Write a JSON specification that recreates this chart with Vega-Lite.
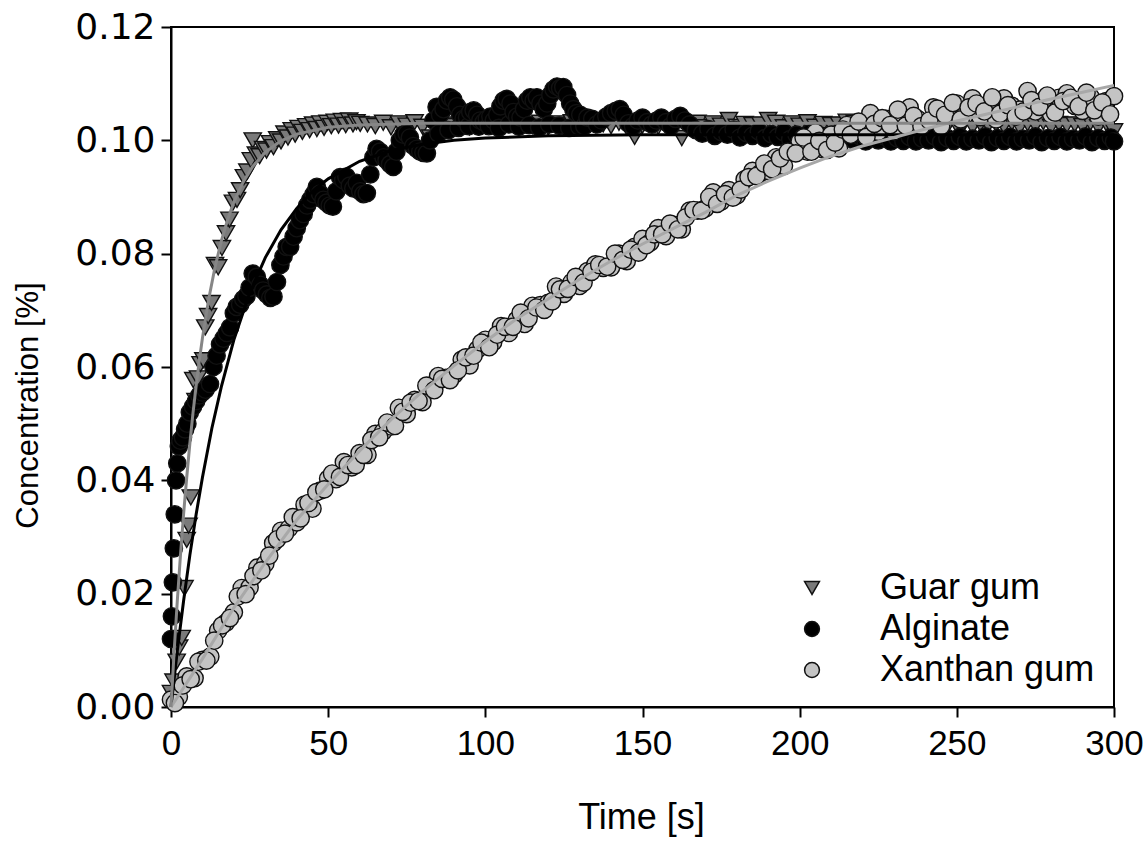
{
"$schema":"https://vega.github.io/schema/vega-lite/v6.json",
"width":943,"height":680,
"autosize":{"type":"none"},
"padding":{"left":171,"top":27,"right":33,"bottom":134},
"background":"white",
"config":{
 "view":{"stroke":"#000","strokeWidth":2},
 "axis":{"domainColor":"#000","domainWidth":2,"tickColor":"#000","tickWidth":2,"tickSize":10,"grid":false,"labelColor":"#000","titleColor":"#000","titleFontWeight":"normal"}
},
"datasets":{
"pts":[
{"s":"Guar gum","t":0,"c":0.0025},{"s":"Guar gum","t":0.8,"c":0.0045},{"s":"Guar gum","t":1.8,"c":0.008},{"s":"Guar gum","t":2.6,"c":0.0105},{"s":"Guar gum","t":3.4,"c":0.0122},{"s":"Guar gum","t":4.3,"c":0.021},{"s":"Guar gum","t":5.0,"c":0.0295},{"s":"Guar gum","t":5.6,"c":0.032},{"s":"Guar gum","t":6.3,"c":0.037},{"s":"Guar gum","t":7.1,"c":0.0577},{"s":"Guar gum","t":7.8,"c":0.054},{"s":"Guar gum","t":8.6,"c":0.058},{"s":"Guar gum","t":9.4,"c":0.0605},{"s":"Guar gum","t":10.3,"c":0.0612},{"s":"Guar gum","t":10.9,"c":0.067},{"s":"Guar gum","t":11.8,"c":0.069},{"s":"Guar gum","t":12.9,"c":0.0713},{"s":"Guar gum","t":14.0,"c":0.078},{"s":"Guar gum","t":15.0,"c":0.0776},{"s":"Guar gum","t":16.2,"c":0.081},{"s":"Guar gum","t":17.5,"c":0.0836},{"s":"Guar gum","t":18.6,"c":0.086},{"s":"Guar gum","t":19.7,"c":0.089},{"s":"Guar gum","t":21.0,"c":0.0895},{"s":"Guar gum","t":22.0,"c":0.0912},{"s":"Guar gum","t":23.2,"c":0.0935},{"s":"Guar gum","t":24.3,"c":0.0945},{"s":"Guar gum","t":25.4,"c":0.0965},{"s":"Guar gum","t":26.0,"c":0.1},{"s":"Guar gum","t":27.0,"c":0.0975},{"s":"Guar gum","t":28.2,"c":0.0972},{"s":"Guar gum","t":29.3,"c":0.0985},{"s":"Guar gum","t":30.4,"c":0.0982},{"s":"Guar gum","t":31.5,"c":0.0995},{"s":"Guar gum","t":32.6,"c":0.0988},{"s":"Guar gum","t":33.8,"c":0.1002},{"s":"Guar gum","t":35.0,"c":0.0998},{"s":"Guar gum","t":36.1,"c":0.1012},{"s":"Guar gum","t":37.2,"c":0.1005},{"s":"Guar gum","t":38.4,"c":0.1018},{"s":"Guar gum","t":39.5,"c":0.101},{"s":"Guar gum","t":40.6,"c":0.1022},{"s":"Guar gum","t":41.8,"c":0.1015},{"s":"Guar gum","t":43.0,"c":0.1025},{"s":"Guar gum","t":44.1,"c":0.1018},{"s":"Guar gum","t":45.2,"c":0.1028},{"s":"Guar gum","t":46.4,"c":0.102},{"s":"Guar gum","t":47.5,"c":0.103},{"s":"Guar gum","t":48.7,"c":0.1022},{"s":"Guar gum","t":49.8,"c":0.1031},{"s":"Guar gum","t":51.0,"c":0.1025},{"s":"Guar gum","t":52.1,"c":0.1033},{"s":"Guar gum","t":53.3,"c":0.1026},{"s":"Guar gum","t":54.4,"c":0.1034},{"s":"Guar gum","t":55.6,"c":0.1027},{"s":"Guar gum","t":56.7,"c":0.1035},{"s":"Guar gum","t":57.9,"c":0.1028},{"s":"Guar gum","t":59.0,"c":0.1032},{"s":"Guar gum","t":60.2,"c":0.1029},
{"s":"Guar gum","t":62.5,"c":0.1028},{"s":"Guar gum","t":65,"c":0.1025},{"s":"Guar gum","t":67.5,"c":0.1031},{"s":"Guar gum","t":70,"c":0.1023},{"s":"Guar gum","t":72.5,"c":0.103},{"s":"Guar gum","t":75,"c":0.1026},{"s":"Guar gum","t":77.5,"c":0.1032},{"s":"Guar gum","t":80,"c":0.1024},{"s":"Guar gum","t":82.5,"c":0.1005},{"s":"Guar gum","t":85,"c":0.1027},{"s":"Guar gum","t":87.5,"c":0.1028},{"s":"Guar gum","t":90,"c":0.1025},{"s":"Guar gum","t":92.5,"c":0.1031},{"s":"Guar gum","t":95,"c":0.1023},{"s":"Guar gum","t":97.5,"c":0.103},{"s":"Guar gum","t":100,"c":0.1026},{"s":"Guar gum","t":102.5,"c":0.1032},{"s":"Guar gum","t":105,"c":0.1024},{"s":"Guar gum","t":107.5,"c":0.1029},{"s":"Guar gum","t":110,"c":0.1027},{"s":"Guar gum","t":112.5,"c":0.1028},{"s":"Guar gum","t":115,"c":0.1025},{"s":"Guar gum","t":117.5,"c":0.1031},{"s":"Guar gum","t":120,"c":0.1023},{"s":"Guar gum","t":122.5,"c":0.103},{"s":"Guar gum","t":125,"c":0.1026},{"s":"Guar gum","t":127.5,"c":0.1032},{"s":"Guar gum","t":130,"c":0.1024},{"s":"Guar gum","t":132.5,"c":0.1029},{"s":"Guar gum","t":135,"c":0.1027},{"s":"Guar gum","t":137.5,"c":0.1028},{"s":"Guar gum","t":140,"c":0.1025},{"s":"Guar gum","t":142.5,"c":0.1031},{"s":"Guar gum","t":145,"c":0.1023},{"s":"Guar gum","t":147.5,"c":0.1006},{"s":"Guar gum","t":150,"c":0.1026},{"s":"Guar gum","t":152.5,"c":0.1032},{"s":"Guar gum","t":155,"c":0.1024},{"s":"Guar gum","t":157.5,"c":0.1029},{"s":"Guar gum","t":160,"c":0.1027},{"s":"Guar gum","t":162.5,"c":0.1004},{"s":"Guar gum","t":165,"c":0.1025},{"s":"Guar gum","t":167.5,"c":0.1031},{"s":"Guar gum","t":170,"c":0.1023},{"s":"Guar gum","t":172.5,"c":0.103},{"s":"Guar gum","t":175,"c":0.1026},{"s":"Guar gum","t":177.5,"c":0.1036},{"s":"Guar gum","t":180,"c":0.1024},{"s":"Guar gum","t":182.5,"c":0.1029},{"s":"Guar gum","t":185,"c":0.1027},{"s":"Guar gum","t":187.5,"c":0.1028},{"s":"Guar gum","t":190,"c":0.1036},{"s":"Guar gum","t":192.5,"c":0.1031},{"s":"Guar gum","t":195,"c":0.1023},{"s":"Guar gum","t":197.5,"c":0.103},{"s":"Guar gum","t":200,"c":0.1026},{"s":"Guar gum","t":202.5,"c":0.1032},{"s":"Guar gum","t":205,"c":0.1024},{"s":"Guar gum","t":207.5,"c":0.1029},{"s":"Guar gum","t":210,"c":0.1027},{"s":"Guar gum","t":212.5,"c":0.1028},{"s":"Guar gum","t":215,"c":0.1033},{"s":"Guar gum","t":217.5,"c":0.1031},{"s":"Guar gum","t":220,"c":0.1023},{"s":"Guar gum","t":222.5,"c":0.103},{"s":"Guar gum","t":225,"c":0.1026},{"s":"Guar gum","t":227.5,"c":0.1032},{"s":"Guar gum","t":230,"c":0.1024},{"s":"Guar gum","t":232.5,"c":0.1029},{"s":"Guar gum","t":235,"c":0.1027},{"s":"Guar gum","t":237.5,"c":0.1028},{"s":"Guar gum","t":240,"c":0.1025},{"s":"Guar gum","t":242.5,"c":0.1031},{"s":"Guar gum","t":245,"c":0.1023},{"s":"Guar gum","t":247.5,"c":0.103},{"s":"Guar gum","t":250,"c":0.1026},{"s":"Guar gum","t":252.5,"c":0.1032},{"s":"Guar gum","t":255,"c":0.1024},{"s":"Guar gum","t":257.5,"c":0.1029},{"s":"Guar gum","t":260,"c":0.1027},{"s":"Guar gum","t":262.5,"c":0.1028},{"s":"Guar gum","t":265,"c":0.1025},{"s":"Guar gum","t":267.5,"c":0.1031},{"s":"Guar gum","t":270,"c":0.1023},{"s":"Guar gum","t":272.5,"c":0.103},{"s":"Guar gum","t":275,"c":0.1026},{"s":"Guar gum","t":277.5,"c":0.1032},{"s":"Guar gum","t":280,"c":0.1024},{"s":"Guar gum","t":282.5,"c":0.1029},{"s":"Guar gum","t":285,"c":0.1027},{"s":"Guar gum","t":287.5,"c":0.1028},{"s":"Guar gum","t":290,"c":0.1025},{"s":"Guar gum","t":292.5,"c":0.1031},{"s":"Guar gum","t":295,"c":0.1023},{"s":"Guar gum","t":297.5,"c":0.103},{"s":"Guar gum","t":300,"c":0.1016},
{"s":"Alginate","t":0,"c":0.012},{"s":"Alginate","t":0.3,"c":0.016},{"s":"Alginate","t":0.6,"c":0.022},{"s":"Alginate","t":0.9,"c":0.028},{"s":"Alginate","t":1.2,"c":0.034},{"s":"Alginate","t":1.6,"c":0.04},{"s":"Alginate","t":2.0,"c":0.043},{"s":"Alginate","t":2.5,"c":0.046},{"s":"Alginate","t":3.0,"c":0.047},{"s":"Alginate","t":3.8,"c":0.0476},{"s":"Alginate","t":4.5,"c":0.049},{"s":"Alginate","t":5.2,"c":0.05},{"s":"Alginate","t":6.0,"c":0.052},{"s":"Alginate","t":7.0,"c":0.053},{"s":"Alginate","t":8.0,"c":0.054},{"s":"Alginate","t":9.0,"c":0.055},{"s":"Alginate","t":10.0,"c":0.0555},{"s":"Alginate","t":11.0,"c":0.056},{"s":"Alginate","t":12.4,"c":0.057},{"s":"Alginate","t":13.5,"c":0.06},{"s":"Alginate","t":14.5,"c":0.062},{"s":"Alginate","t":15.6,"c":0.064},{"s":"Alginate","t":16.7,"c":0.065},{"s":"Alginate","t":17.8,"c":0.066},{"s":"Alginate","t":18.8,"c":0.067},{"s":"Alginate","t":20.0,"c":0.0695},{"s":"Alginate","t":20.9,"c":0.0706},{"s":"Alginate","t":22.0,"c":0.071},{"s":"Alginate","t":23.0,"c":0.072},{"s":"Alginate","t":24.0,"c":0.0725},{"s":"Alginate","t":25.0,"c":0.074},{"s":"Alginate","t":26.0,"c":0.0765},{"s":"Alginate","t":27.3,"c":0.0759},{"s":"Alginate","t":28.4,"c":0.0745},{"s":"Alginate","t":29.3,"c":0.0735},{"s":"Alginate","t":30.5,"c":0.0728},{"s":"Alginate","t":31.6,"c":0.0722},{"s":"Alginate","t":32.6,"c":0.0724},{"s":"Alginate","t":33.7,"c":0.075},{"s":"Alginate","t":34.8,"c":0.078},{"s":"Alginate","t":35.8,"c":0.0795},{"s":"Alginate","t":36.8,"c":0.0812},{"s":"Alginate","t":37.9,"c":0.0812},{"s":"Alginate","t":39.0,"c":0.083},{"s":"Alginate","t":40.0,"c":0.0845},{"s":"Alginate","t":41.0,"c":0.0859},{"s":"Alginate","t":42.2,"c":0.087},{"s":"Alginate","t":43.3,"c":0.0885},{"s":"Alginate","t":44.3,"c":0.0895},{"s":"Alginate","t":45.4,"c":0.0905},{"s":"Alginate","t":46.4,"c":0.0918},{"s":"Alginate","t":47.4,"c":0.0906},{"s":"Alginate","t":48.5,"c":0.0895},{"s":"Alginate","t":49.5,"c":0.089},{"s":"Alginate","t":50.5,"c":0.0885},{"s":"Alginate","t":51.5,"c":0.0883},{"s":"Alginate","t":52.6,"c":0.091},{"s":"Alginate","t":53.8,"c":0.0935},{"s":"Alginate","t":54.8,"c":0.093},{"s":"Alginate","t":55.8,"c":0.0936},{"s":"Alginate","t":56.9,"c":0.092},{"s":"Alginate","t":58.0,"c":0.0915},{"s":"Alginate","t":59.1,"c":0.0925},{"s":"Alginate","t":60.2,"c":0.091},{"s":"Alginate","t":61.2,"c":0.0905},{"s":"Alginate","t":62.3,"c":0.0907},{"s":"Alginate","t":63.4,"c":0.094},{"s":"Alginate","t":64.4,"c":0.097},{"s":"Alginate","t":65.4,"c":0.0985},{"s":"Alginate","t":66.5,"c":0.098},{"s":"Alginate","t":67.6,"c":0.097},{"s":"Alginate","t":68.6,"c":0.0965},{"s":"Alginate","t":69.7,"c":0.0958},{"s":"Alginate","t":70.7,"c":0.0953},{"s":"Alginate","t":71.7,"c":0.098},{"s":"Alginate","t":72.8,"c":0.1},{"s":"Alginate","t":73.9,"c":0.101},{"s":"Alginate","t":75.0,"c":0.1012},{"s":"Alginate","t":76.0,"c":0.1005},{"s":"Alginate","t":77.1,"c":0.099},{"s":"Alginate","t":78.2,"c":0.0985},{"s":"Alginate","t":79.3,"c":0.098},{"s":"Alginate","t":80.3,"c":0.0978},{"s":"Alginate","t":81.4,"c":0.0977},{"s":"Alginate","t":82.4,"c":0.1},{"s":"Alginate","t":83.5,"c":0.1035},{"s":"Alginate","t":84.5,"c":0.1059},{"s":"Alginate","t":85.1,"c":0.1012},{"s":"Alginate","t":85.6,"c":0.1045},{"s":"Alginate","t":86.7,"c":0.1055},{"s":"Alginate","t":87.8,"c":0.107},{"s":"Alginate","t":88.3,"c":0.1018},{"s":"Alginate","t":88.8,"c":0.1076},{"s":"Alginate","t":89.8,"c":0.1072},{"s":"Alginate","t":91.0,"c":0.106},{"s":"Alginate","t":91.5,"c":0.1022},{"s":"Alginate","t":92.0,"c":0.1045},{"s":"Alginate","t":93.1,"c":0.1038},{"s":"Alginate","t":94.2,"c":0.104},{"s":"Alginate","t":94.7,"c":0.1025},{"s":"Alginate","t":95.2,"c":0.105},{"s":"Alginate","t":96.3,"c":0.1053},{"s":"Alginate","t":97.4,"c":0.1045},{"s":"Alginate","t":97.9,"c":0.1024},{"s":"Alginate","t":98.4,"c":0.1035},{"s":"Alginate","t":99.5,"c":0.1032},{"s":"Alginate","t":100.5,"c":0.1038},{"s":"Alginate","t":101.1,"c":0.1025},{"s":"Alginate","t":101.6,"c":0.1042},{"s":"Alginate","t":102.7,"c":0.1035},{"s":"Alginate","t":103.8,"c":0.1045},{"s":"Alginate","t":104.3,"c":0.1022},{"s":"Alginate","t":104.8,"c":0.106},{"s":"Alginate","t":105.8,"c":0.107},{"s":"Alginate","t":106.8,"c":0.1073},{"s":"Alginate","t":107.5,"c":0.1028},{"s":"Alginate","t":108.0,"c":0.1065},{"s":"Alginate","t":109.0,"c":0.105},{"s":"Alginate","t":110.1,"c":0.1042},{"s":"Alginate","t":110.7,"c":0.1024},{"s":"Alginate","t":111.2,"c":0.104},{"s":"Alginate","t":112.3,"c":0.1055},{"s":"Alginate","t":113.3,"c":0.107},{"s":"Alginate","t":113.9,"c":0.1027},{"s":"Alginate","t":114.3,"c":0.1076},{"s":"Alginate","t":115.4,"c":0.107},{"s":"Alginate","t":116.4,"c":0.1076},{"s":"Alginate","t":117.1,"c":0.1023},{"s":"Alginate","t":117.5,"c":0.1065},{"s":"Alginate","t":118.6,"c":0.1055},{"s":"Alginate","t":119.7,"c":0.1065},{"s":"Alginate","t":120.3,"c":0.1028},{"s":"Alginate","t":120.7,"c":0.108},{"s":"Alginate","t":121.7,"c":0.109},{"s":"Alginate","t":122.8,"c":0.1095},{"s":"Alginate","t":123.5,"c":0.1026},{"s":"Alginate","t":123.8,"c":0.1092},{"s":"Alginate","t":124.8,"c":0.1094},{"s":"Alginate","t":126.0,"c":0.108},{"s":"Alginate","t":126.7,"c":0.1022},{"s":"Alginate","t":127.0,"c":0.1065},{"s":"Alginate","t":128.0,"c":0.1055},{"s":"Alginate","t":129.0,"c":0.1048},{"s":"Alginate","t":129.9,"c":0.1024},{"s":"Alginate","t":130.2,"c":0.1045},{"s":"Alginate","t":131.5,"c":0.1025},{"s":"Alginate","t":132.5,"c":0.104},{"s":"Alginate","t":134,"c":0.1038},{"s":"Alginate","t":135.5,"c":0.1028},{"s":"Alginate","t":137,"c":0.1035},{"s":"Alginate","t":138.5,"c":0.1042},{"s":"Alginate","t":140,"c":0.1048},{"s":"Alginate","t":141.5,"c":0.1052},{"s":"Alginate","t":142.8,"c":0.1055},{"s":"Alginate","t":144,"c":0.1045},{"s":"Alginate","t":145.5,"c":0.103},{"s":"Alginate","t":147,"c":0.1025},{"s":"Alginate","t":148.5,"c":0.1035},{"s":"Alginate","t":150,"c":0.104},{"s":"Alginate","t":151.5,"c":0.1032},{"s":"Alginate","t":153,"c":0.1028},{"s":"Alginate","t":154.5,"c":0.1035},{"s":"Alginate","t":156,"c":0.104},{"s":"Alginate","t":157.5,"c":0.1032},{"s":"Alginate","t":159,"c":0.1025},{"s":"Alginate","t":160.5,"c":0.1038},{"s":"Alginate","t":162,"c":0.1043},{"s":"Alginate","t":163.5,"c":0.1035},{"s":"Alginate","t":165,"c":0.1028},{"s":"Alginate","t":167,"c":0.1018},{"s":"Alginate","t":169,"c":0.1012},{"s":"Alginate","t":171,"c":0.102},{"s":"Alginate","t":173,"c":0.1008},{"s":"Alginate","t":175,"c":0.1015},{"s":"Alginate","t":177,"c":0.101},{"s":"Alginate","t":179,"c":0.1019},{"s":"Alginate","t":181,"c":0.1005},{"s":"Alginate","t":183,"c":0.1013},{"s":"Alginate","t":185,"c":0.1008},{"s":"Alginate","t":187,"c":0.1016},{"s":"Alginate","t":189,"c":0.1004},{"s":"Alginate","t":191,"c":0.1011},{"s":"Alginate","t":193,"c":0.1006},{"s":"Alginate","t":195,"c":0.1014},{"s":"Alginate","t":197,"c":0.1002},{"s":"Alginate","t":199,"c":0.101},{"s":"Alginate","t":201,"c":0.1005},{"s":"Alginate","t":203,"c":0.1012},{"s":"Alginate","t":205,"c":0.1},{"s":"Alginate","t":207,"c":0.1008},{"s":"Alginate","t":209,"c":0.1003},{"s":"Alginate","t":211,"c":0.101},{"s":"Alginate","t":213,"c":0.0999},{"s":"Alginate","t":215,"c":0.1006},{"s":"Alginate","t":217,"c":0.1001},{"s":"Alginate","t":219,"c":0.1008},{"s":"Alginate","t":221,"c":0.0998},{"s":"Alginate","t":223,"c":0.1005},{"s":"Alginate","t":225,"c":0.1},{"s":"Alginate","t":227,"c":0.1007},{"s":"Alginate","t":229,"c":0.0998},{"s":"Alginate","t":231,"c":0.1004},{"s":"Alginate","t":233,"c":0.0999},{"s":"Alginate","t":235,"c":0.1006},{"s":"Alginate","t":237,"c":0.0998},{"s":"Alginate","t":239,"c":0.1003},{"s":"Alginate","t":241,"c":0.1},{"s":"Alginate","t":243,"c":0.1007},{"s":"Alginate","t":245,"c":0.0997},{"s":"Alginate","t":247,"c":0.1004},{"s":"Alginate","t":249,"c":0.0999},{"s":"Alginate","t":251,"c":0.1006},{"s":"Alginate","t":253,"c":0.0998},{"s":"Alginate","t":255,"c":0.1003},{"s":"Alginate","t":257,"c":0.1},{"s":"Alginate","t":259,"c":0.1007},{"s":"Alginate","t":261,"c":0.0997},{"s":"Alginate","t":263,"c":0.1004},{"s":"Alginate","t":265,"c":0.0999},{"s":"Alginate","t":267,"c":0.1006},{"s":"Alginate","t":269,"c":0.0998},{"s":"Alginate","t":271,"c":0.1003},{"s":"Alginate","t":273,"c":0.1},{"s":"Alginate","t":275,"c":0.1007},{"s":"Alginate","t":277,"c":0.0997},{"s":"Alginate","t":279,"c":0.1004},{"s":"Alginate","t":281,"c":0.0999},{"s":"Alginate","t":283,"c":0.1006},{"s":"Alginate","t":285,"c":0.0998},{"s":"Alginate","t":287,"c":0.1003},{"s":"Alginate","t":289,"c":0.1},{"s":"Alginate","t":291,"c":0.1007},{"s":"Alginate","t":293,"c":0.0997},{"s":"Alginate","t":295,"c":0.1004},{"s":"Alginate","t":297,"c":0.0999},{"s":"Alginate","t":299,"c":0.1005},{"s":"Alginate","t":300,"c":0.0998},
{"s":"Xanthan gum","t":0,"c":0.0013},{"s":"Xanthan gum","t":2.5,"c":0.0018},{"s":"Xanthan gum","t":5,"c":0.0054},{"s":"Xanthan gum","t":7.5,"c":0.0051},{"s":"Xanthan gum","t":10,"c":0.0083},{"s":"Xanthan gum","t":12.5,"c":0.0089},{"s":"Xanthan gum","t":15,"c":0.0135},{"s":"Xanthan gum","t":17.5,"c":0.0149},{"s":"Xanthan gum","t":20,"c":0.0167},{"s":"Xanthan gum","t":22.5,"c":0.021},{"s":"Xanthan gum","t":25,"c":0.0211},{"s":"Xanthan gum","t":27.5,"c":0.0246},{"s":"Xanthan gum","t":30,"c":0.0253},{"s":"Xanthan gum","t":32.5,"c":0.0289},{"s":"Xanthan gum","t":35,"c":0.0311},{"s":"Xanthan gum","t":37.5,"c":0.0315},{"s":"Xanthan gum","t":40,"c":0.0326},{"s":"Xanthan gum","t":42.5,"c":0.0357},{"s":"Xanthan gum","t":45,"c":0.035},{"s":"Xanthan gum","t":47.5,"c":0.0382},{"s":"Xanthan gum","t":50,"c":0.0403},{"s":"Xanthan gum","t":52.5,"c":0.0402},{"s":"Xanthan gum","t":55,"c":0.0432},{"s":"Xanthan gum","t":57.5,"c":0.0423},{"s":"Xanthan gum","t":60,"c":0.0448},{"s":"Xanthan gum","t":62.5,"c":0.0445},{"s":"Xanthan gum","t":65,"c":0.0482},{"s":"Xanthan gum","t":67.5,"c":0.0486},{"s":"Xanthan gum","t":70,"c":0.0495},{"s":"Xanthan gum","t":72.5,"c":0.0528},{"s":"Xanthan gum","t":75,"c":0.0517},{"s":"Xanthan gum","t":77.5,"c":0.0542},{"s":"Xanthan gum","t":80,"c":0.0538},{"s":"Xanthan gum","t":82.5,"c":0.0567},{"s":"Xanthan gum","t":85,"c":0.0584},{"s":"Xanthan gum","t":87.5,"c":0.0581},{"s":"Xanthan gum","t":90,"c":0.0586},{"s":"Xanthan gum","t":92.5,"c":0.0613},{"s":"Xanthan gum","t":95,"c":0.0603},{"s":"Xanthan gum","t":97.5,"c":0.0631},{"s":"Xanthan gum","t":100,"c":0.0648},{"s":"Xanthan gum","t":102.5,"c":0.0644},{"s":"Xanthan gum","t":105,"c":0.0672},{"s":"Xanthan gum","t":107.5,"c":0.066},{"s":"Xanthan gum","t":110,"c":0.0683},{"s":"Xanthan gum","t":112.5,"c":0.0676},{"s":"Xanthan gum","t":115,"c":0.0708},{"s":"Xanthan gum","t":117.5,"c":0.0709},{"s":"Xanthan gum","t":120,"c":0.0713},{"s":"Xanthan gum","t":122.5,"c":0.0742},{"s":"Xanthan gum","t":125,"c":0.0729},{"s":"Xanthan gum","t":127.5,"c":0.075},{"s":"Xanthan gum","t":130,"c":0.0743},{"s":"Xanthan gum","t":132.5,"c":0.0769},{"s":"Xanthan gum","t":135,"c":0.0781},{"s":"Xanthan gum","t":137.5,"c":0.0775},{"s":"Xanthan gum","t":140,"c":0.0776},{"s":"Xanthan gum","t":142.5,"c":0.08},{"s":"Xanthan gum","t":145,"c":0.0787},{"s":"Xanthan gum","t":147.5,"c":0.0812},{"s":"Xanthan gum","t":150,"c":0.0826},{"s":"Xanthan gum","t":152.5,"c":0.082},{"s":"Xanthan gum","t":155,"c":0.0845},{"s":"Xanthan gum","t":157.5,"c":0.0831},{"s":"Xanthan gum","t":160,"c":0.0851},{"s":"Xanthan gum","t":162.5,"c":0.0843},{"s":"Xanthan gum","t":165,"c":0.0876},{"s":"Xanthan gum","t":167.5,"c":0.0876},{"s":"Xanthan gum","t":170,"c":0.088},{"s":"Xanthan gum","t":172.5,"c":0.0908},{"s":"Xanthan gum","t":175,"c":0.0892},{"s":"Xanthan gum","t":177.5,"c":0.0912},{"s":"Xanthan gum","t":180,"c":0.0903},{"s":"Xanthan gum","t":182.5,"c":0.0931},{"s":"Xanthan gum","t":185,"c":0.0946},{"s":"Xanthan gum","t":187.5,"c":0.0942},{"s":"Xanthan gum","t":190,"c":0.0946},{"s":"Xanthan gum","t":192.5,"c":0.097},{"s":"Xanthan gum","t":195,"c":0.0955},{"s":"Xanthan gum","t":197.5,"c":0.098},{"s":"Xanthan gum","t":200,"c":0.0998},{"s":"Xanthan gum","t":202.5,"c":0.098},{"s":"Xanthan gum","t":205,"c":0.1014},{"s":"Xanthan gum","t":207.5,"c":0.0984},{"s":"Xanthan gum","t":210,"c":0.101},{"s":"Xanthan gum","t":212.5,"c":0.0986},{"s":"Xanthan gum","t":215,"c":0.1027},{"s":"Xanthan gum","t":217.5,"c":0.1016},{"s":"Xanthan gum","t":220,"c":0.1012},{"s":"Xanthan gum","t":222.5,"c":0.1048},{"s":"Xanthan gum","t":225,"c":0.1015},{"s":"Xanthan gum","t":227.5,"c":0.1038},{"s":"Xanthan gum","t":230,"c":0.1016},{"s":"Xanthan gum","t":232.5,"c":0.1047},{"s":"Xanthan gum","t":235,"c":0.1058},{"s":"Xanthan gum","t":237.5,"c":0.1038},{"s":"Xanthan gum","t":240,"c":0.1031},{"s":"Xanthan gum","t":242.5,"c":0.1058},{"s":"Xanthan gum","t":245,"c":0.1025},{"s":"Xanthan gum","t":247.5,"c":0.1054},{"s":"Xanthan gum","t":250,"c":0.1065},{"s":"Xanthan gum","t":252.5,"c":0.1044},{"s":"Xanthan gum","t":255,"c":0.1074},{"s":"Xanthan gum","t":257.5,"c":0.1041},{"s":"Xanthan gum","t":260,"c":0.1063},{"s":"Xanthan gum","t":262.5,"c":0.1037},{"s":"Xanthan gum","t":265,"c":0.1074},{"s":"Xanthan gum","t":267.5,"c":0.1061},{"s":"Xanthan gum","t":270,"c":0.1054},{"s":"Xanthan gum","t":272.5,"c":0.1087},{"s":"Xanthan gum","t":275,"c":0.1051},{"s":"Xanthan gum","t":277.5,"c":0.1071},{"s":"Xanthan gum","t":280,"c":0.1046},{"s":"Xanthan gum","t":282.5,"c":0.1075},{"s":"Xanthan gum","t":285,"c":0.1083},{"s":"Xanthan gum","t":287.5,"c":0.1061},{"s":"Xanthan gum","t":290,"c":0.1052},{"s":"Xanthan gum","t":292.5,"c":0.1077},{"s":"Xanthan gum","t":295,"c":0.1042},{"s":"Xanthan gum","t":297.5,"c":0.1069},{"s":"Xanthan gum","t":300,"c":0.1078},
{"s":"Xanthan gum","t":1.25,"c":0.0007},{"s":"Xanthan gum","t":3.75,"c":0.0038},{"s":"Xanthan gum","t":6.25,"c":0.0049},{"s":"Xanthan gum","t":8.75,"c":0.008},{"s":"Xanthan gum","t":11.25,"c":0.0082},{"s":"Xanthan gum","t":13.75,"c":0.0117},{"s":"Xanthan gum","t":16.25,"c":0.0144},{"s":"Xanthan gum","t":18.75,"c":0.0157},{"s":"Xanthan gum","t":21.25,"c":0.0195},{"s":"Xanthan gum","t":23.75,"c":0.0199},{"s":"Xanthan gum","t":26.25,"c":0.0231},{"s":"Xanthan gum","t":28.75,"c":0.0241},{"s":"Xanthan gum","t":31.25,"c":0.0267},{"s":"Xanthan gum","t":33.75,"c":0.0296},{"s":"Xanthan gum","t":36.25,"c":0.0306},{"s":"Xanthan gum","t":38.75,"c":0.0335},{"s":"Xanthan gum","t":41.25,"c":0.0333},{"s":"Xanthan gum","t":43.75,"c":0.036},{"s":"Xanthan gum","t":46.25,"c":0.0379},{"s":"Xanthan gum","t":48.75,"c":0.0384},{"s":"Xanthan gum","t":51.25,"c":0.0412},{"s":"Xanthan gum","t":53.75,"c":0.0406},{"s":"Xanthan gum","t":56.25,"c":0.0427},{"s":"Xanthan gum","t":58.75,"c":0.0427},{"s":"Xanthan gum","t":61.25,"c":0.0445},{"s":"Xanthan gum","t":63.75,"c":0.0471},{"s":"Xanthan gum","t":66.25,"c":0.0476},{"s":"Xanthan gum","t":68.75,"c":0.0502},{"s":"Xanthan gum","t":71.25,"c":0.0496},{"s":"Xanthan gum","t":73.75,"c":0.0521},{"s":"Xanthan gum","t":76.25,"c":0.0537},{"s":"Xanthan gum","t":78.75,"c":0.054},{"s":"Xanthan gum","t":81.25,"c":0.0567},{"s":"Xanthan gum","t":83.75,"c":0.0559},{"s":"Xanthan gum","t":86.25,"c":0.0579},{"s":"Xanthan gum","t":88.75,"c":0.0577},{"s":"Xanthan gum","t":91.25,"c":0.0594},{"s":"Xanthan gum","t":93.75,"c":0.0617},{"s":"Xanthan gum","t":96.25,"c":0.062},{"s":"Xanthan gum","t":98.75,"c":0.0643},{"s":"Xanthan gum","t":101.25,"c":0.0635},{"s":"Xanthan gum","t":103.75,"c":0.0657},{"s":"Xanthan gum","t":106.25,"c":0.0671},{"s":"Xanthan gum","t":108.75,"c":0.0671},{"s":"Xanthan gum","t":111.25,"c":0.0696},{"s":"Xanthan gum","t":113.75,"c":0.0686},{"s":"Xanthan gum","t":116.25,"c":0.0705},{"s":"Xanthan gum","t":118.75,"c":0.0701},{"s":"Xanthan gum","t":121.25,"c":0.0716},{"s":"Xanthan gum","t":123.75,"c":0.0737},{"s":"Xanthan gum","t":126.25,"c":0.0738},{"s":"Xanthan gum","t":128.75,"c":0.0759},{"s":"Xanthan gum","t":131.25,"c":0.0749},{"s":"Xanthan gum","t":133.75,"c":0.0768},{"s":"Xanthan gum","t":136.25,"c":0.078},{"s":"Xanthan gum","t":138.75,"c":0.0777},{"s":"Xanthan gum","t":141.25,"c":0.08},{"s":"Xanthan gum","t":143.75,"c":0.0789},{"s":"Xanthan gum","t":146.25,"c":0.0807},{"s":"Xanthan gum","t":148.75,"c":0.0802},{"s":"Xanthan gum","t":151.25,"c":0.0815},{"s":"Xanthan gum","t":153.75,"c":0.0834},{"s":"Xanthan gum","t":156.25,"c":0.0834},{"s":"Xanthan gum","t":158.75,"c":0.0853},{"s":"Xanthan gum","t":161.25,"c":0.0843},{"s":"Xanthan gum","t":163.75,"c":0.0864},{"s":"Xanthan gum","t":166.25,"c":0.0877},{"s":"Xanthan gum","t":168.75,"c":0.0876},{"s":"Xanthan gum","t":171.25,"c":0.09},{"s":"Xanthan gum","t":173.75,"c":0.0888},{"s":"Xanthan gum","t":176.25,"c":0.0905},{"s":"Xanthan gum","t":178.75,"c":0.0899},{"s":"Xanthan gum","t":181.25,"c":0.0913},{"s":"Xanthan gum","t":183.75,"c":0.0935},{"s":"Xanthan gum","t":186.25,"c":0.0937},{"s":"Xanthan gum","t":188.75,"c":0.0959},{"s":"Xanthan gum","t":191.25,"c":0.0949},{"s":"Xanthan gum","t":193.75,"c":0.0968},{"s":"Xanthan gum","t":196.25,"c":0.098},{"s":"Xanthan gum","t":198.75,"c":0.0977},{"s":"Xanthan gum","t":201.25,"c":0.1005},{"s":"Xanthan gum","t":203.75,"c":0.098},{"s":"Xanthan gum","t":206.25,"c":0.0999},{"s":"Xanthan gum","t":208.75,"c":0.0983},{"s":"Xanthan gum","t":211.25,"c":0.0996},{"s":"Xanthan gum","t":213.75,"c":0.1019},{"s":"Xanthan gum","t":216.25,"c":0.101},{"s":"Xanthan gum","t":218.75,"c":0.1033},{"s":"Xanthan gum","t":221.25,"c":0.1006},{"s":"Xanthan gum","t":223.75,"c":0.1029},{"s":"Xanthan gum","t":226.25,"c":0.1039},{"s":"Xanthan gum","t":228.75,"c":0.1027},{"s":"Xanthan gum","t":231.25,"c":0.1054},{"s":"Xanthan gum","t":233.75,"c":0.1026},{"s":"Xanthan gum","t":236.25,"c":0.1043},{"s":"Xanthan gum","t":238.75,"c":0.1025},{"s":"Xanthan gum","t":241.25,"c":0.1035},{"s":"Xanthan gum","t":243.75,"c":0.1056},{"s":"Xanthan gum","t":246.25,"c":0.1045},{"s":"Xanthan gum","t":248.75,"c":0.1066},{"s":"Xanthan gum","t":251.25,"c":0.1037},{"s":"Xanthan gum","t":253.75,"c":0.1058},{"s":"Xanthan gum","t":256.25,"c":0.1065},{"s":"Xanthan gum","t":258.75,"c":0.1051},{"s":"Xanthan gum","t":261.25,"c":0.1076},{"s":"Xanthan gum","t":263.75,"c":0.1047},{"s":"Xanthan gum","t":266.25,"c":0.1062},{"s":"Xanthan gum","t":268.75,"c":0.1042},{"s":"Xanthan gum","t":271.25,"c":0.1051},{"s":"Xanthan gum","t":273.75,"c":0.1071},{"s":"Xanthan gum","t":276.25,"c":0.1059},{"s":"Xanthan gum","t":278.75,"c":0.1079},{"s":"Xanthan gum","t":281.25,"c":0.1049},{"s":"Xanthan gum","t":283.75,"c":0.1069},{"s":"Xanthan gum","t":286.25,"c":0.1075},{"s":"Xanthan gum","t":288.75,"c":0.106},{"s":"Xanthan gum","t":291.25,"c":0.1084},{"s":"Xanthan gum","t":293.75,"c":0.1053},{"s":"Xanthan gum","t":296.25,"c":0.1067},{"s":"Xanthan gum","t":298.75,"c":0.1046}
],
"fit":[
{"s":"Alginate","t":0,"c":0},{"s":"Alginate","t":2,"c":0.0099},{"s":"Alginate","t":4,"c":0.0187},{"s":"Alginate","t":6,"c":0.0268},{"s":"Alginate","t":8,"c":0.034},{"s":"Alginate","t":10,"c":0.0405},{"s":"Alginate","t":13,"c":0.0492},{"s":"Alginate","t":16,"c":0.0565},{"s":"Alginate","t":20,"c":0.0648},{"s":"Alginate","t":25,"c":0.073},{"s":"Alginate","t":30,"c":0.0793},{"s":"Alginate","t":35,"c":0.0842},{"s":"Alginate","t":40,"c":0.088},{"s":"Alginate","t":45,"c":0.091},{"s":"Alginate","t":50,"c":0.0932},{"s":"Alginate","t":60,"c":0.0963},{"s":"Alginate","t":70,"c":0.0982},{"s":"Alginate","t":80,"c":0.0993},{"s":"Alginate","t":90,"c":0.1},{"s":"Alginate","t":100,"c":0.1004},{"s":"Alginate","t":120,"c":0.1008},{"s":"Alginate","t":150,"c":0.101},{"s":"Alginate","t":300,"c":0.101},
{"s":"Xanthan gum","t":0,"c":0},{"s":"Xanthan gum","t":10,"c":0.0085},{"s":"Xanthan gum","t":20,"c":0.0175},{"s":"Xanthan gum","t":30,"c":0.0255},{"s":"Xanthan gum","t":40,"c":0.033},{"s":"Xanthan gum","t":50,"c":0.0393},{"s":"Xanthan gum","t":60,"c":0.0452},{"s":"Xanthan gum","t":70,"c":0.0507},{"s":"Xanthan gum","t":80,"c":0.0557},{"s":"Xanthan gum","t":90,"c":0.0602},{"s":"Xanthan gum","t":100,"c":0.0645},{"s":"Xanthan gum","t":110,"c":0.0685},{"s":"Xanthan gum","t":120,"c":0.072},{"s":"Xanthan gum","t":130,"c":0.0755},{"s":"Xanthan gum","t":140,"c":0.0787},{"s":"Xanthan gum","t":150,"c":0.0817},{"s":"Xanthan gum","t":160,"c":0.0845},{"s":"Xanthan gum","t":170,"c":0.0873},{"s":"Xanthan gum","t":180,"c":0.0903},{"s":"Xanthan gum","t":190,"c":0.0928},{"s":"Xanthan gum","t":200,"c":0.0951},{"s":"Xanthan gum","t":210,"c":0.0972},{"s":"Xanthan gum","t":220,"c":0.099},{"s":"Xanthan gum","t":230,"c":0.1005},{"s":"Xanthan gum","t":240,"c":0.102},{"s":"Xanthan gum","t":250,"c":0.1034},{"s":"Xanthan gum","t":260,"c":0.1047},{"s":"Xanthan gum","t":270,"c":0.106},{"s":"Xanthan gum","t":280,"c":0.1073},{"s":"Xanthan gum","t":290,"c":0.1085},{"s":"Xanthan gum","t":300,"c":0.1097},
{"s":"Guar gum","t":0,"c":0},{"s":"Guar gum","t":1,"c":0.0098},{"s":"Guar gum","t":2,"c":0.0187},{"s":"Guar gum","t":3,"c":0.0267},{"s":"Guar gum","t":4,"c":0.034},{"s":"Guar gum","t":5,"c":0.0405},{"s":"Guar gum","t":6,"c":0.0465},{"s":"Guar gum","t":7,"c":0.0519},{"s":"Guar gum","t":8,"c":0.0567},{"s":"Guar gum","t":9,"c":0.0611},{"s":"Guar gum","t":10,"c":0.0651},{"s":"Guar gum","t":12,"c":0.072},{"s":"Guar gum","t":14,"c":0.0776},{"s":"Guar gum","t":16,"c":0.0822},{"s":"Guar gum","t":18,"c":0.086},{"s":"Guar gum","t":20,"c":0.0891},{"s":"Guar gum","t":23,"c":0.0927},{"s":"Guar gum","t":26,"c":0.0954},{"s":"Guar gum","t":30,"c":0.0979},{"s":"Guar gum","t":35,"c":0.0999},{"s":"Guar gum","t":40,"c":0.1011},{"s":"Guar gum","t":50,"c":0.1023},{"s":"Guar gum","t":60,"c":0.1027},{"s":"Guar gum","t":80,"c":0.103},{"s":"Guar gum","t":300,"c":0.103}
]
},
"layer":[
{"data":{"name":"pts"},
 "mark":{"type":"point","filled":true,"size":300,"opacity":1,"stroke":"#111","strokeWidth":1.4},
 "encoding":{
  "x":{"field":"t","type":"quantitative","scale":{"domain":[0,300],"nice":false,"zero":false},
   "axis":{"values":[0,50,100,150,200,250,300],"labelFlush":false,"labelOverlap":false,"labelFont":"Liberation Sans, Arial, sans-serif","labelFontSize":35,"labelPadding":9,"title":"Time [s]","titleFont":"Liberation Sans, Arial, sans-serif","titleFontSize":36,"titleX":470,"titleY":110,"titleBaseline":"middle"}},
  "y":{"field":"c","type":"quantitative","scale":{"domain":[0,0.12],"nice":false},
   "axis":{"values":[0,0.02,0.04,0.06,0.08,0.1,0.12],"format":".2f","labelFont":"DejaVu Sans","labelFontSize":36,"labelPadding":6,"title":"Concentration [%]","titleFont":"Liberation Sans, Arial, sans-serif","titleFontSize":31,"titleX":-143,"titleY":378,"titleBaseline":"middle","titleAngle":-90}},
  "fill":{"field":"s","type":"nominal","scale":{"domain":["Guar gum","Alginate","Xanthan gum"],"range":["#7a7a7a","#000000","#c4c4c4"]},
   "legend":{"title":null,"orient":"none","legendX":623,"legendY":543,"padding":0,"symbolSize":220,"symbolOpacity":1,"labelFont":"Liberation Sans, Arial, sans-serif","labelFontSize":36,"labelColor":"#000","labelOffset":50,"labelLimit":500,"rowPadding":5,
    "encode":{"symbols":{"update":{"stroke":{"value":"#111"},"strokeWidth":{"value":1.2}}}}}},
  "shape":{"field":"s","type":"nominal","scale":{"domain":["Guar gum","Alginate","Xanthan gum"],"range":["triangle-down","circle","circle"]},
   "legend":{"title":null,"orient":"none","legendX":623,"legendY":543,"padding":0,"symbolSize":220,"symbolOpacity":1,"labelFont":"Liberation Sans, Arial, sans-serif","labelFontSize":36,"labelColor":"#000","labelOffset":50,"labelLimit":500,"rowPadding":5,
    "encode":{"symbols":{"update":{"stroke":{"value":"#111"},"strokeWidth":{"value":1.2}}}}}}
 }},
{"data":{"name":"fit"},
 "mark":{"type":"line","strokeWidth":3},
 "encoding":{
  "x":{"field":"t","type":"quantitative"},
  "y":{"field":"c","type":"quantitative"},
  "stroke":{"field":"s","type":"nominal","scale":{"domain":["Alginate","Xanthan gum","Guar gum"],"range":["#000000","#a8a8a8","#868686"]},"legend":null}
 }}
]
}
